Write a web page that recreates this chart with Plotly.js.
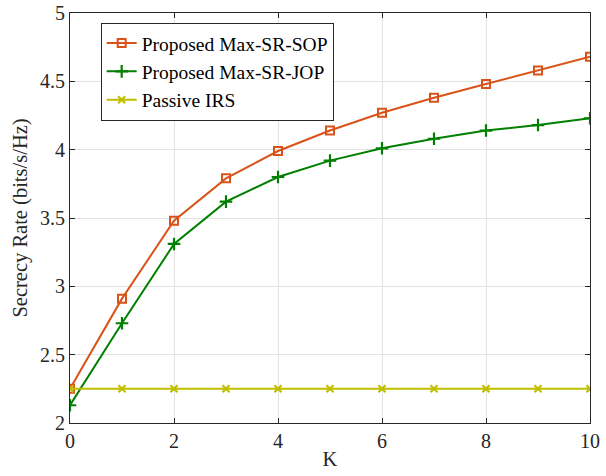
<!DOCTYPE html>
<html><head><meta charset="utf-8">
<script src="https://cdn.plot.ly/plotly-3.0.1.min.js"></script>
<style>html,body{margin:0;padding:0;background:#fff}#c{width:606px;height:476px}</style>
</head><body><div id="c"></div>
<script>
const K = [0,1,2,3,4,5,6,7,8,9,10];
const sop = [2.25,2.91,3.48,3.79,3.99,4.14,4.27,4.38,4.48,4.58,4.68];
const jop = [2.13,2.73,3.31,3.62,3.80,3.92,4.01,4.08,4.14,4.18,4.23];
const passive = [2.25,2.25,2.25,2.25,2.25,2.25,2.25,2.25,2.25,2.25,2.25];
const names = ['Proposed Max-SR-SOP','Proposed Max-SR-JOP','Passive IRS'];
const xTicks = [0,2,4,6,8,10];
const yTicks = [2,2.5,3,3.5,4,4.5,5];
const yTickText = ['2','2.5','3','3.5','4','4.5','5'];

const fam = 'Liberation Serif';
const tickFont = {family:fam, size:20, color:'#262626'};
const titleFont = {family:fam, size:20.5, color:'#262626'};
const traces = [
  {x:K, y:sop, name:names[0], mode:'lines+markers', line:{color:'#D95319',width:2},
   marker:{symbol:'square-open',size:8,color:'#D95319',line:{width:2}}},
  {x:K, y:jop, name:names[1], mode:'lines+markers', line:{color:'#008000',width:2},
   marker:{symbol:'cross-thin-open',size:9,color:'#008000',line:{width:2.2,color:'#008000'}}},
  {x:K, y:passive, name:names[2], mode:'lines+markers', line:{color:'#BFBF00',width:2},
   marker:{symbol:'x-thin-open',size:7,color:'#BFBF00',line:{width:2.2,color:'#BFBF00'}}}
];
const axisCommon = {showline:true, linecolor:'#262626', linewidth:1, mirror:'ticks', ticks:'inside',
  ticklen:5, tickcolor:'#262626', showgrid:true, gridcolor:'#e3e3e3', gridwidth:1, zeroline:false, tickfont:tickFont};
const layout = {
  width:606, height:476, paper_bgcolor:'#fff', plot_bgcolor:'#fff', font:tickFont,
  margin:{l:70,r:16,t:13,b:53},
  xaxis:Object.assign({}, axisCommon, {range:[0,10], tickvals:xTicks, ticktext:xTicks.map(String),
    title:{text:'K', font:titleFont, standoff:0}}),
  yaxis:Object.assign({}, axisCommon, {range:[2,5], tickvals:yTicks, ticktext:yTickText,
    title:{text:'Secrecy Rate (bits/s/Hz)', font:titleFont, standoff:6}}),
  legend:{x:0.059, y:0.976, xanchor:'left', yanchor:'top', bgcolor:'#fff', bordercolor:'#262626', borderwidth:1,
    font:{family:fam, size:19.5, color:'#000'}, tracegroupgap:0, itemwidth:30},
  showlegend:true
};
Plotly.newPlot('c', traces, layout, {displayModeBar:false, staticPlot:true});
</script></body></html>
